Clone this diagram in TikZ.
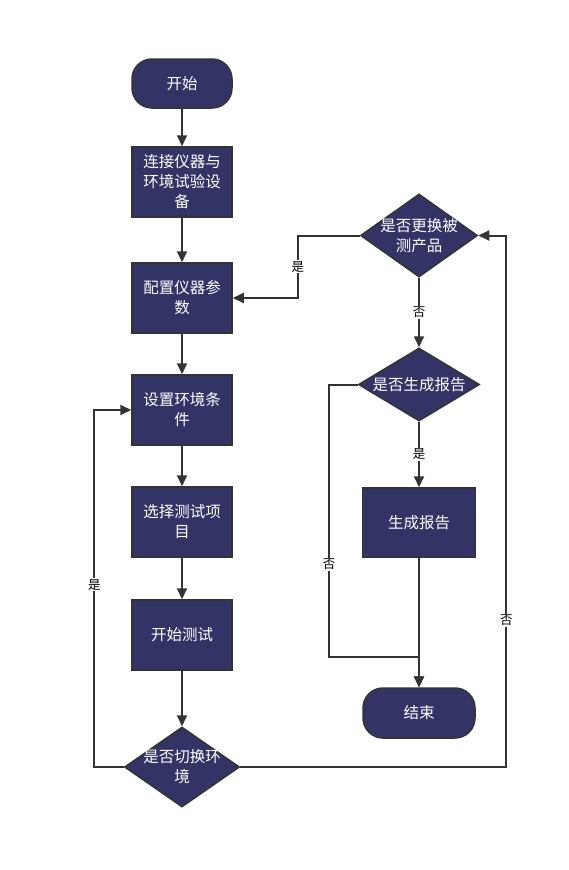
\documentclass[tikz,border=0pt]{standalone}
\usepackage{fontspec}
\newfontfamily\cjk{Noto Sans CJK SC}
\usetikzlibrary{shapes.geometric,arrows.meta}
\definecolor{boxfill}{RGB}{51,51,102}
\definecolor{linegray}{RGB}{51,51,51}
\begin{document}
\begin{tikzpicture}[x=1pt,y=1pt,
base/.style={draw=linegray,line width=1.5pt,fill=boxfill,text=white,align=center,
  font=\cjk\fontsize{15.5}{20}\selectfont,inner sep=0pt},
stepbox/.style={base,minimum width=100pt,minimum height=70pt},
term/.style={base,rounded corners=20pt,minimum width=100pt,minimum height=49pt},
decision/.style={base,diamond,minimum width=115pt,minimum height=80pt},
line/.style={draw=linegray,line width=2pt,->,>={Triangle[length=11pt,width=10pt]}},
lab/.style={fill=white,inner sep=1pt,font=\cjk\fontsize{12.5}{14}\selectfont,text=black}]
\useasboundingbox (0,0) rectangle (569,-870);
% left column
\node[term] (start) at (182,-83.5) {开始};
\node[stepbox] (b1) at (182,-182) {连接仪器与\\环境试验设\\备};
\node[stepbox] (b2) at (182,-298) {配置仪器参\\数};
\node[stepbox] (b3) at (182,-410) {设置环境条\\件};
\node[stepbox] (b4) at (182,-522) {选择测试项\\目};
\node[stepbox] (b5) at (182,-635) {开始测试};
\node[decision] (d1) at (182,-767) {};
\node[base,fill=none,draw=none] (d1t) at (d1) {是否切换环\\境};
% right column
\node[decision,minimum width=117pt,minimum height=83pt] (d2) at (419,-235.5) {};
\node[base,fill=none,draw=none] (d2t) at (d2) {是否更换被\\测产品};
\node[decision,minimum width=121pt,minimum height=73pt] (d3) at (419,-384.5) {};
\node[base,fill=none,draw=none] (d3t) at (d3) {是否生成报告};
\node[stepbox,minimum width=113pt,minimum height=69pt] (b6) at (419,-522.5) {生成报告};
\node[term,minimum width=112pt,minimum height=50pt] (end) at (419,-713) {结束};
% connectors
\draw[line] (start) -- (b1);
\draw[line] (b1) -- (b2);
\draw[line] (b2) -- (b3);
\draw[line] (b3) -- (b4);
\draw[line] (b4) -- (b5);
\draw[line] (b5) -- (d1);
\draw[line] (d1.west) -| ([xshift=-37pt]b3.west) node[lab,pos=0.755]{是} -- (b3.west);
\draw[line] (d1.east) -| ([xshift=28pt]d2.east) node[lab,pos=0.638]{否} -- (d2.east);
\draw[line] (d2.west) -| ([xshift=65pt]b2.east) node[lab,pos=0.75]{是} -- (b2.east);
\draw[line] (d2.south) -- node[lab]{否} (d3.north);
\draw[line] (d3.south) -- node[lab]{是} (b6.north);
\draw[line] (b6.south) -- (end.north);
\draw[line] (d3.west) -| ([xshift=-90pt,yshift=30pt]end.north) node[lab,pos=0.83]{否} -| (end.north);
\end{tikzpicture}
\end{document}
